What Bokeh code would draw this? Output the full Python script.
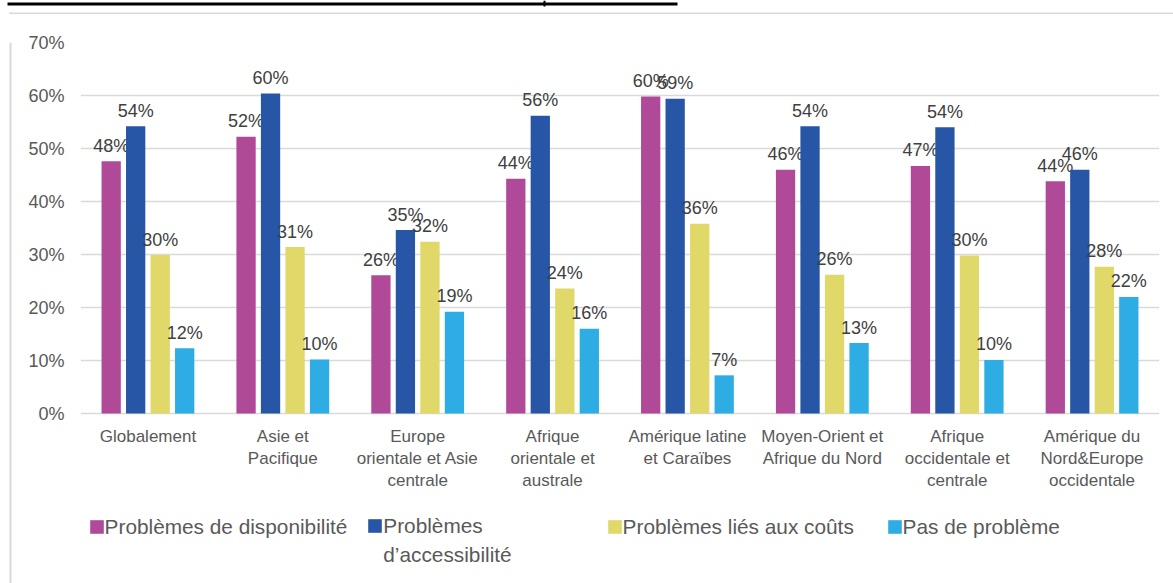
from bokeh.plotting import figure
from bokeh.models import (ColumnDataSource, FactorRange, Range1d, FixedTicker,
                          PrintfTickFormatter, Legend, LegendItem)
from bokeh.layouts import column, row
from bokeh.transform import dodge
from bokeh.core.properties import value
from bokeh.embed import file_html
from bokeh.resources import INLINE

# ---- data -------------------------------------------------------------
categories = ["Globalement", "Asie et Pacifique", "Europe orientale et Asie centrale",
              "Afrique orientale et australe", "Amérique latine et Caraïbes",
              "Moyen-Orient et Afrique du Nord", "Afrique occidentale et centrale",
              "Amérique du Nord&Europe occidentale"]
tick_labels = ["Globalement", "Asie et\nPacifique", "Europe\norientale et Asie\ncentrale",
               "Afrique\norientale et\naustrale", "Amérique latine\net Caraïbes",
               "Moyen-Orient et\nAfrique du Nord", "Afrique\noccidentale et\ncentrale",
               "Amérique du\nNord&Europe\noccidentale"]
disponibilite = [47.6, 52.2, 26.1, 44.3, 59.8, 46.0, 46.7, 43.8]
accessibilite = [54.2, 60.4, 34.6, 56.2, 59.4, 54.2, 54.0, 46.0]
couts = [29.9, 31.4, 32.4, 23.6, 35.8, 26.2, 29.8, 27.7]
aucun = [12.3, 10.2, 19.2, 16.0, 7.2, 13.3, 10.1, 22.0]
series_names = ["Problèmes de disponibilité", "Problèmes d\u2019accessibilité",
                "Problèmes liés aux coûts", "Pas de problème"]
y_ticks = [0, 10, 20, 30, 40, 50, 60, 70]

# ---- style ------------------------------------------------------------
FONT = "Liberation Sans"
colors = ["#B04A98", "#2756A6", "#E0D868", "#2EACE4"]
offsets = [-0.2725, -0.091, 0.091, 0.2725]
bar_w = 0.143
PX_PER_UNIT = 5.3          # vertical pixels per percentage point
BELOW_PX = 170             # room below the 0% line for labels and legend

series = [disponibilite, accessibilite, couts, aucun]
keys = ["dispo", "access", "couts", "aucun"]
data = {"cat": categories, "tick": tick_labels, "zero": [0] * len(categories)}
for k, s in zip(keys, series):
    data[k] = s
    data[k + "_lbl"] = [f"{int(v + 0.5)}%" for v in s]
src = ColumnDataSource(data)

# ---- decoration strips (page rule + chart box edges) -------------------
top = figure(width=1173, height=14, x_range=Range1d(0, 1173), y_range=Range1d(14, 0),
             output_backend="svg", toolbar_location=None, min_border=0,
             x_axis_type=None, y_axis_type=None)
top.grid.visible = False
top.outline_line_color = None
top.quad(left=[7, 543, 9], right=[677, 545, 1173], top=[2, 0, 12], bottom=[5, 6, 14],
         fill_color=["black", "black", "#D9D9D9"], line_color=None)
top.quad(left=[9], right=[11], top=[12], bottom=[14], fill_color="#D9D9D9", line_color=None)

left = figure(width=12, height=569, x_range=Range1d(0, 12), y_range=Range1d(569, 0),
              output_backend="svg", toolbar_location=None, min_border=0,
              x_axis_type=None, y_axis_type=None)
left.grid.visible = False
left.outline_line_color = None
left.quad(left=[9], right=[11], top=[0], bottom=[569], fill_color="#D9D9D9", line_color=None)

# ---- main chart --------------------------------------------------------
p = figure(x_range=FactorRange(factors=categories, range_padding=0),
           y_range=Range1d(-BELOW_PX / PX_PER_UNIT, 70), width=1161, height=569,
           output_backend="svg", toolbar_location=None,
           min_border_left=68, min_border_right=14, min_border_top=28,
           min_border_bottom=0)
p.outline_line_color = None
p.xaxis.visible = False

renderers = []
for k, c, off in zip(keys, colors, offsets):
    r = p.vbar(x=dodge("cat", off, range=p.x_range), top=k, bottom=0, width=bar_w,
               source=src, fill_color=c, line_color=None)
    renderers.append(r)
    p.text(x=dodge("cat", off, range=p.x_range), y=k, text=k + "_lbl", source=src,
           text_align="center", text_baseline="alphabetic", y_offset=-15.5,
           text_font=value(FONT), text_font_size="18px", text_color="#404040")

# category labels under the 0% line
p.text(x="cat", y="zero", text="tick", source=src, text_align="center",
       text_baseline="top", y_offset=13.5, text_line_height=1.145,
       text_font=value(FONT), text_font_size="17px", text_color="#595959")

p.yaxis.ticker = FixedTicker(ticks=y_ticks)
p.yaxis.formatter = PrintfTickFormatter(format="%d%%")
p.yaxis.axis_line_color = None
p.yaxis.major_tick_line_color = None
p.yaxis.minor_tick_line_color = None
p.yaxis.major_tick_out = 0
p.yaxis.major_tick_in = 0
p.yaxis.major_label_standoff = 16
p.yaxis.major_label_text_font = FONT
p.yaxis.major_label_text_font_size = "18px"
p.yaxis.major_label_text_color = "#595959"

p.xgrid.grid_line_color = None
p.ygrid.ticker = FixedTicker(ticks=y_ticks)
p.ygrid.grid_line_color = "#D9D9D9"
p.ygrid.grid_line_width = 1.3

# legend: each entry placed like the original; the second one wraps onto two lines
blank = p.vbar(x=[], top=[], width=bar_w, fill_alpha=0, line_alpha=0)
leg_style = dict(orientation="vertical", padding=0, margin=0, spacing=5,
                 border_line_color=None, background_fill_alpha=0,
                 glyph_width=17, glyph_height=17, label_standoff=0,
                 label_text_font=FONT, label_text_font_size="20.8px",
                 label_text_color="#595959")
leg_x = [7.6, 286.3, 525.6, 805.6]
for i, (name, r, lx) in enumerate(zip(series_names, renderers, leg_x)):
    if i == 1:
        first, second = name.split(" ", 1)
        items = [LegendItem(label=first, renderers=[r]),
                 LegendItem(label=second, renderers=[blank])]
        ly = 44.5 - 28
    else:
        items = [LegendItem(label=name, renderers=[r])]
        ly = 44.5
    p.add_layout(Legend(items=items, location=(lx, ly), **leg_style))

layout = column(top, row(left, p))
open("out.html", "w").write(file_html(layout, INLINE))
